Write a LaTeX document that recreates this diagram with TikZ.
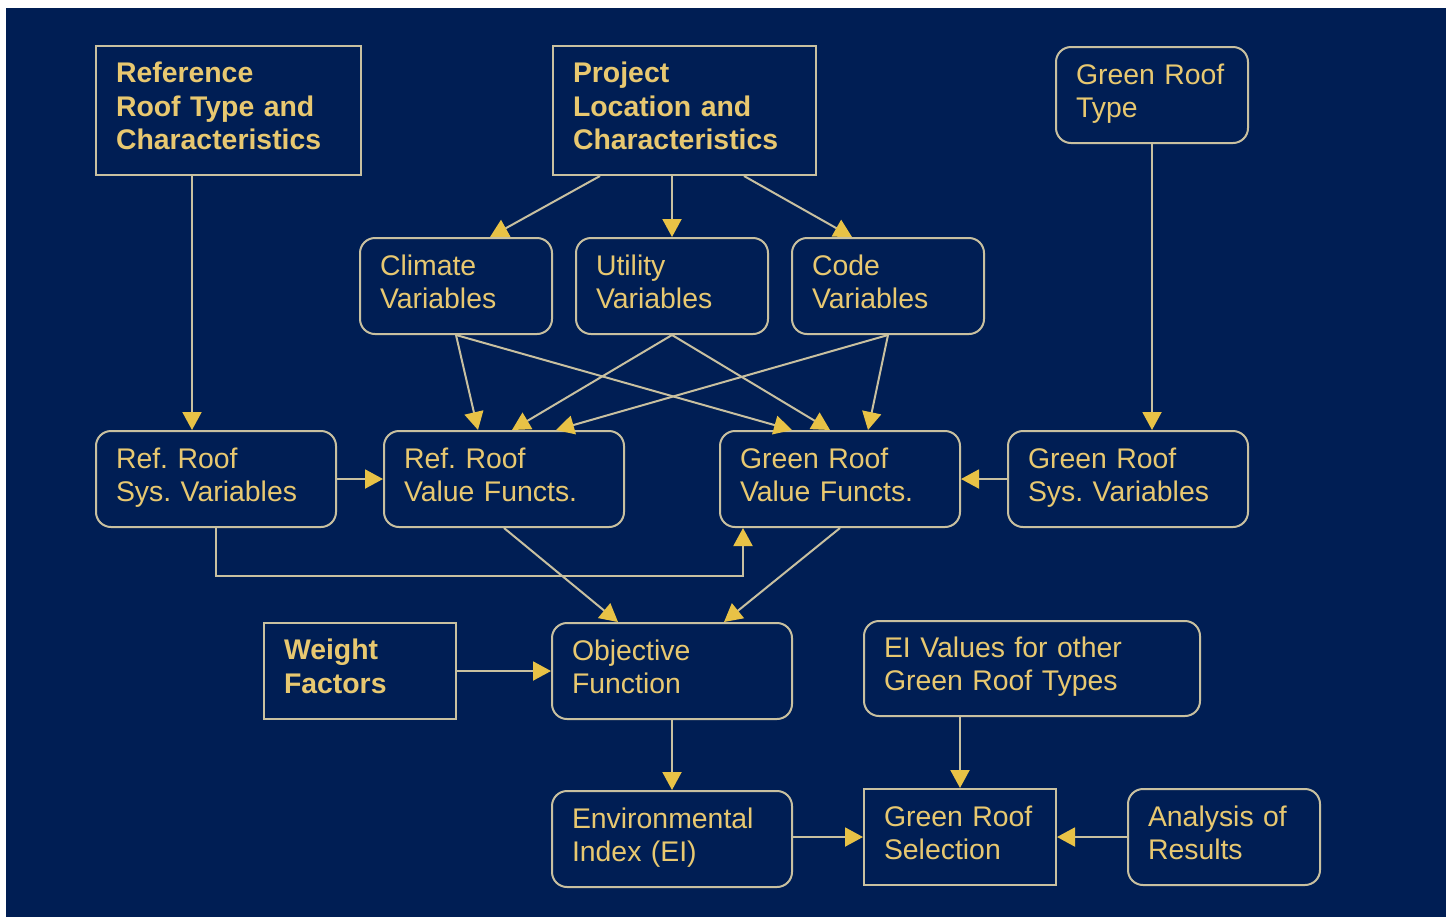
\documentclass[tikz,border=0pt]{standalone}
\usepackage{fontspec}
\setmainfont{Liberation Sans}
\usetikzlibrary{arrows.meta}
\frenchspacing
\definecolor{bgnavy}{RGB}{0,30,84}
\definecolor{linegray}{RGB}{200,192,160}
\definecolor{arrowgold}{RGB}{232,194,70}
\definecolor{textgold}{RGB}{232,200,112}
\tikzset{
  anybox/.style={draw=linegray, line width=1pt, text=textgold, align=left,
    inner xsep=10pt, inner ysep=0pt,
    font=\fontsize{14.2}{16.6}\selectfont,
    execute at begin node={\rule{0pt}{11.6pt}},
    execute at end node={\rule[-6pt]{0pt}{6pt}}},
  rbox/.style={anybox, rounded corners=7.5pt},
  sbox/.style={anybox, font=\fontsize{14.2}{16.8}\selectfont\bfseries},
  plainbox/.style={anybox},
  smallsz/.style={minimum width=96pt, minimum height=48pt, text width=76pt},
  midsz/.style={minimum width=120pt, minimum height=48pt, text width=100pt},
  conn/.style={draw=linegray, line width=1pt,
    -{Triangle[length=9pt,width=9.5pt,color=arrowgold]}},
}
\begin{document}
\begin{tikzpicture}[x=0.5pt,y=-0.5pt]
\fill[white] (0,0) rectangle (1451,917);
\fill[bgnavy] (6,8) rectangle (1446,917);
\useasboundingbox (0,0) rectangle (1451,917);

% top row
\node[sbox, minimum width=132.5pt, minimum height=64.5pt, text width=112.5pt] (ref) at (228.5,110.5)
  {Reference\\Roof Type and\\Characteristics};
\node[sbox, minimum width=131.5pt, minimum height=64.5pt, text width=111.5pt] (proj) at (684.5,110.5)
  {Project\\Location and\\Characteristics};
\node[rbox, smallsz] (grt) at (1152,95) {Green Roof\\Type};

% second row
\node[rbox, smallsz] (clim) at (456,286) {Climate\\Variables};
\node[rbox, smallsz] (util) at (672,286) {Utility\\Variables};
\node[rbox, smallsz] (code) at (888,286) {Code\\Variables};

% third row
\node[rbox, midsz] (rsys) at (216,479) {Ref. Roof\\Sys. Variables};
\node[rbox, midsz] (rval) at (504,479) {Ref. Roof\\Value Functs.};
\node[rbox, midsz] (gval) at (840,479) {Green Roof\\Value Functs.};
\node[rbox, midsz] (gsys) at (1128,479) {Green Roof\\Sys. Variables};

% fourth row
\node[sbox, smallsz] (wf) at (360,671) {Weight\\Factors};
\node[rbox, midsz] (obj) at (672,671) {Objective\\Function};
\node[rbox, minimum width=168pt, minimum height=47.5pt, text width=148pt] (eiv) at (1032,668.5)
  {EI Values for other\\Green Roof Types};

% bottom row
\node[rbox, midsz] (env) at (672,839) {Environmental\\Index (EI)};
\node[plainbox, smallsz] (sel) at (960,837) {Green Roof\\Selection};
\node[rbox, smallsz] (ana) at (1224,837) {Analysis of\\Results};

% connectors
\coordinate (refsysin) at ([xshift=-12pt]rsys.north);
\draw[conn] (ref.south -| refsysin) -- (refsysin);
\draw[conn] ([xshift=-42.25pt]proj.south) -- ([xshift=17pt]clim.north);
\draw[conn] (proj.south -| util.north) -- (util.north);
\draw[conn] ([xshift=29.75pt]proj.south) -- ([xshift=-18pt]code.north);
\draw[conn] (grt.south) -- (gsys.north -| grt.south);

\draw[conn] (clim.south) -- ([xshift=-13pt]rval.north);
\draw[conn] (clim.south) -- ([xshift=-24pt]gval.north);
\draw[conn] (util.south) -- ([xshift=4pt]rval.north);
\draw[conn] (util.south) -- ([xshift=-5pt]gval.north);
\draw[conn] (code.south) -- ([xshift=26pt]rval.north);
\draw[conn] (code.south) -- ([xshift=14pt]gval.north);

\draw[conn] (rsys.east) -- (rval.west);
\draw[conn] (gsys.west) -- (gval.east);
\draw[conn] (rsys.south) -- ++(0,48) -| ([xshift=12pt]gval.south west);

\draw[conn] (rval.south) -- ([xshift=-27pt]obj.north);
\draw[conn] (gval.south) -- ([xshift=26pt]obj.north);
\draw[conn] (wf.east) -- (obj.west);
\draw[conn] (obj.south) -- (env.north);
\draw[conn] (eiv.south -| sel.north) -- (sel.north);
\draw[conn] (env.east |- sel.west) -- (sel.west);
\draw[conn] (ana.west) -- (sel.east);
\end{tikzpicture}
\end{document}
